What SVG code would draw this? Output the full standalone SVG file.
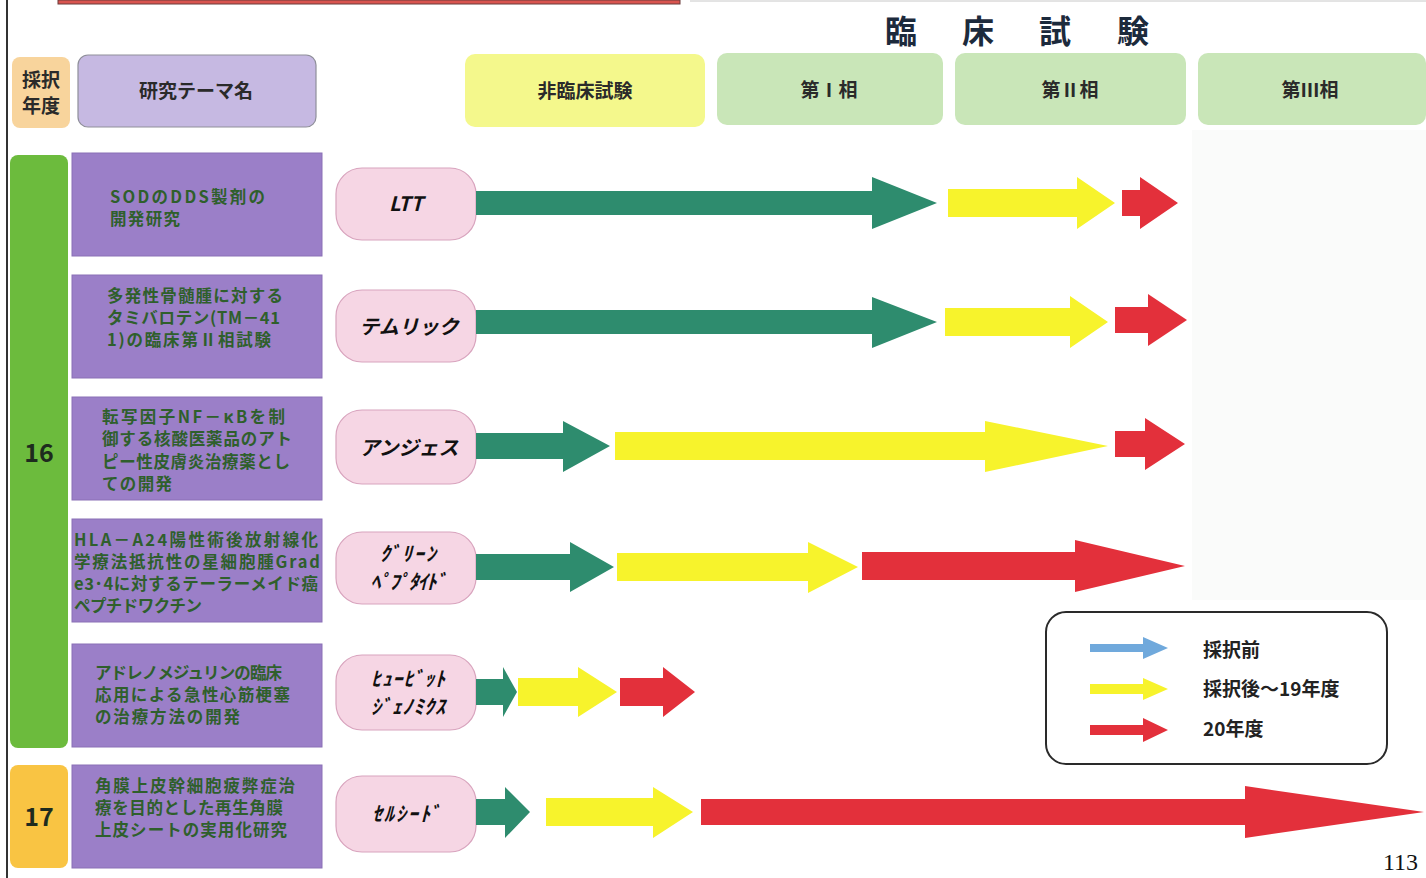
<svg xmlns="http://www.w3.org/2000/svg" width="1426" height="878" viewBox="0 0 1426 878">
<style>
.jp{font-family:"Noto Sans CJK JP","Noto Sans",sans-serif;}
.hd{font-family:"Noto Sans CJK JP",sans-serif;font-weight:700;fill:#2a2a2a;font-size:19px;text-anchor:middle;}
.theme{fill:#9b7fc8;stroke:#8a70b6;stroke-width:1;}
.tt{font-family:"Noto Sans CJK JP",sans-serif;font-weight:700;fill:#2f5f2c;font-size:16.5px;}
.pill{fill:#f6d6e4;stroke:#d8a3bd;stroke-width:1.2;}
.pt{font-family:"Noto Sans CJK JP",sans-serif;font-weight:700;font-style:italic;fill:#111;font-size:20px;text-anchor:middle;}
.g{fill:#2e8c6e;}
.y{fill:#f7f32c;}
.r{fill:#e3303b;}
.b{fill:#70a9dc;}
.lg{font-family:"Noto Sans CJK JP",sans-serif;font-weight:700;fill:#222;font-size:19px;}
</style>
<rect x="0" y="0" width="1426" height="878" fill="#ffffff"/>
<rect x="1192" y="130" width="234" height="470" fill="#fafbfa"/>
<!-- top frame -->
<rect x="58" y="0" width="622" height="4" fill="#d9544f" stroke="#6a3a3a" stroke-width="1"/>
<line x1="690" y1="1" x2="1426" y2="1" stroke="#c8c8c8" stroke-width="1"/>
<line x1="7" y1="0" x2="7" y2="878" stroke="#333" stroke-width="2"/>

<!-- title -->
<g id="title" class="jp" font-size="32" font-weight="700" fill="#1c2a3c" text-anchor="middle">
<text x="901" y="43">臨</text><text x="978" y="43">床</text><text x="1055" y="43">試</text><text x="1133" y="43">験</text>
</g>

<!-- header -->
<g id="h-year"><rect x="12" y="57" width="58" height="71" rx="8" fill="#f8d49c"/>
<text class="hd" x="41" y="87" font-size="20">採択</text><text class="hd" x="41" y="113" font-size="20">年度</text></g>
<g id="h-theme"><rect x="78" y="55" width="238" height="72" rx="10" fill="#c6b9e2" stroke="#8f8f9a" stroke-width="1.2"/>
<text class="hd" x="196" y="98">研究テーマ名</text></g>
<g id="h-nonclin"><rect x="465" y="54" width="240" height="73" rx="10" fill="#f4f88c"/>
<text class="hd" x="585" y="98">非臨床試験</text></g>
<g id="h-p1"><rect x="717" y="53" width="226" height="72" rx="10" fill="#c9e6b8"/>
<text class="hd" x="829" y="97">第Ⅰ相</text></g>
<g id="h-p2"><rect x="955" y="53" width="231" height="72" rx="10" fill="#c9e6b8"/>
<text class="hd" x="1070" y="97">第Ⅱ相</text></g>
<g id="h-p3"><rect x="1198" y="53" width="228" height="72" rx="10" fill="#c9e6b8"/>
<text class="hd" x="1310" y="97">第Ⅲ相</text></g>

<!-- year column -->
<g id="y16"><rect x="10" y="155" width="58" height="593" rx="8" fill="#6cbb3d"/>
<text x="39" y="462" class="jp" font-size="25" font-weight="700" fill="#1e2b1e" text-anchor="middle">16</text></g>
<g id="y17"><rect x="10" y="765" width="58" height="103" rx="8" fill="#f9c443"/>
<text x="39" y="826" class="jp" font-size="25" font-weight="700" fill="#1e2b1e" text-anchor="middle">17</text></g>

<!-- themes -->
<g id="t1"><rect class="theme" x="72" y="153" width="250" height="103"/>
<text class="tt" x="110" y="203" textLength="155">SODのDDS製剤の</text>
<text class="tt" x="110" y="225" textLength="70">開発研究</text></g>
<g id="t2"><rect class="theme" x="72" y="275" width="250" height="103"/>
<text class="tt" x="107" y="302" textLength="176">多発性骨髄腫に対する</text>
<text class="tt" x="107" y="324" textLength="173">タミバロテン(TM－41</text>
<text class="tt" x="107" y="346" textLength="164">1)の臨床第Ⅱ相試験</text></g>
<g id="t3"><rect class="theme" x="72" y="397" width="250" height="103"/>
<text class="tt" x="102" y="423" textLength="183">転写因子NF－κBを制</text>
<text class="tt" x="102" y="445" textLength="190">御する核酸医薬品のアト</text>
<text class="tt" x="102" y="468" textLength="188">ピー性皮膚炎治療薬とし</text>
<text class="tt" x="102" y="490" textLength="70">ての開発</text></g>
<g id="t4"><rect class="theme" x="72" y="519" width="250" height="103"/>
<text class="tt" x="74" y="546" textLength="244">HLA－A24陽性術後放射線化</text>
<text class="tt" x="74" y="568" textLength="246">学療法抵抗性の星細胞腫Grad</text>
<text class="tt" x="74" y="590" textLength="244">e3･4に対するテーラーメイド癌</text>
<text class="tt" x="74" y="612" textLength="128">ペプチドワクチン</text></g>
<g id="t5"><rect class="theme" x="72" y="644" width="250" height="103"/>
<text class="tt" x="95" y="679" textLength="187">アドレノメジュリンの臨床</text>
<text class="tt" x="95" y="701" textLength="195">応用による急性心筋梗塞</text>
<text class="tt" x="95" y="723" textLength="145">の治療方法の開発</text></g>
<g id="t6"><rect class="theme" x="72" y="765" width="250" height="103"/>
<text class="tt" x="95" y="792" textLength="200">角膜上皮幹細胞疲弊症治</text>
<text class="tt" x="95" y="814" textLength="188">療を目的とした再生角膜</text>
<text class="tt" x="95" y="836" textLength="192">上皮シートの実用化研究</text></g>

<!-- companies -->
<g id="c1"><rect class="pill" x="336" y="168" width="140" height="72" rx="26"/>
<text class="pt" x="406" y="211">LTT</text></g>
<g id="c2"><rect class="pill" x="336" y="290" width="140" height="72" rx="26"/>
<text class="pt" x="409" y="334">テムリック</text></g>
<g id="c3"><rect class="pill" x="336" y="410" width="140" height="74" rx="26"/>
<text class="pt" x="409" y="455">アンジェス</text></g>
<g id="c4"><rect class="pill" x="336" y="532" width="140" height="72" rx="26"/>
<text class="pt" x="408" y="561" font-size="18" textLength="56">ｸﾞﾘｰﾝ</text>
<text class="pt" x="408" y="589" font-size="18" textLength="76">ﾍﾟﾌﾟﾀｲﾄﾞ</text></g>
<g id="c5"><rect class="pill" x="336" y="655" width="140" height="75" rx="26"/>
<text class="pt" x="408" y="686" font-size="18" textLength="74">ﾋｭｰﾋﾞｯﾄ</text>
<text class="pt" x="408" y="714" font-size="18" textLength="74">ｼﾞｪﾉﾐｸｽ</text></g>
<g id="c6"><rect class="pill" x="336" y="776" width="140" height="76" rx="26"/>
<text class="pt" x="406" y="821" font-size="19" textLength="68">ｾﾙｼｰﾄﾞ</text></g>

<!-- connectors / progress arrows -->
<g id="arrows">
<path class="g" d="M476,191 L872,191 L872,177 L937,203 L872,229 L872,215 L476,215 Z"/>
<path class="y" d="M948,189 L1077,189 L1077,177 L1115,203 L1077,229 L1077,217 L948,217 Z"/>
<path class="r" d="M1122,190 L1140,190 L1140,177 L1178,203 L1140,229 L1140,216 L1122,216 Z"/>

<path class="g" d="M476,310 L872,310 L872,297 L937,322 L872,348 L872,334 L476,334 Z"/>
<path class="y" d="M945,308 L1070,308 L1070,296 L1108,322 L1070,348 L1070,336 L945,336 Z"/>
<path class="r" d="M1115,307 L1148,307 L1148,294 L1187,320 L1148,346 L1148,333 L1115,333 Z"/>

<path class="g" d="M476,433 L563,433 L563,421 L610,446 L563,472 L563,459 L476,459 Z"/>
<path class="y" d="M615,432 L985,432 L985,421 L1108,446 L985,472 L985,460 L615,460 Z"/>
<path class="r" d="M1115,431 L1145,431 L1145,418 L1185,444 L1145,470 L1145,457 L1115,457 Z"/>

<path class="g" d="M476,554 L570,554 L570,542 L614,567 L570,592 L570,580 L476,580 Z"/>
<path class="y" d="M617,553 L808,553 L808,542 L858,567 L808,593 L808,581 L617,581 Z"/>
<path class="r" d="M862,552 L1075,552 L1075,540 L1185,566 L1075,592 L1075,580 L862,580 Z"/>

<path class="g" d="M476,679 L503,679 L503,667 L517,692 L503,717 L503,705 L476,705 Z"/>
<path class="y" d="M518,678 L578,678 L578,667 L617,692 L578,717 L578,706 L518,706 Z"/>
<path class="r" d="M620,678 L663,678 L663,667 L695,692 L663,717 L663,706 L620,706 Z"/>

<path class="g" d="M476,799 L505,799 L505,787 L530,812 L505,838 L505,825 L476,825 Z"/>
<path class="y" d="M546,798 L653,798 L653,787 L693,812 L653,838 L653,826 L546,826 Z"/>
<path class="r" d="M701,799 L1245,799 L1245,786 L1424,812 L1245,838 L1245,825 L701,825 Z"/>
</g>

<!-- legend -->
<g id="legend">
<rect x="1046" y="612" width="341" height="152" rx="20" fill="#ffffff" stroke="#2a2a2a" stroke-width="2"/>
<path class="b" d="M1090,644 L1143,644 L1143,637 L1168,648 L1143,659 L1143,652 L1090,652 Z"/>
<path class="y" d="M1090,684 L1143,684 L1143,678 L1168,689 L1143,700 L1143,694 L1090,694 Z"/>
<path class="r" d="M1090,725 L1143,725 L1143,718 L1168,730 L1143,742 L1143,735 L1090,735 Z"/>
<text class="lg" x="1203" y="657">採択前</text>
<text class="lg" x="1203" y="696">採択後～19年度</text>
<text class="lg" x="1203" y="736">20年度</text>
</g>

<text x="1418" y="870" font-family="Liberation Serif,serif" font-size="24" fill="#111" text-anchor="end">113</text>
</svg>
